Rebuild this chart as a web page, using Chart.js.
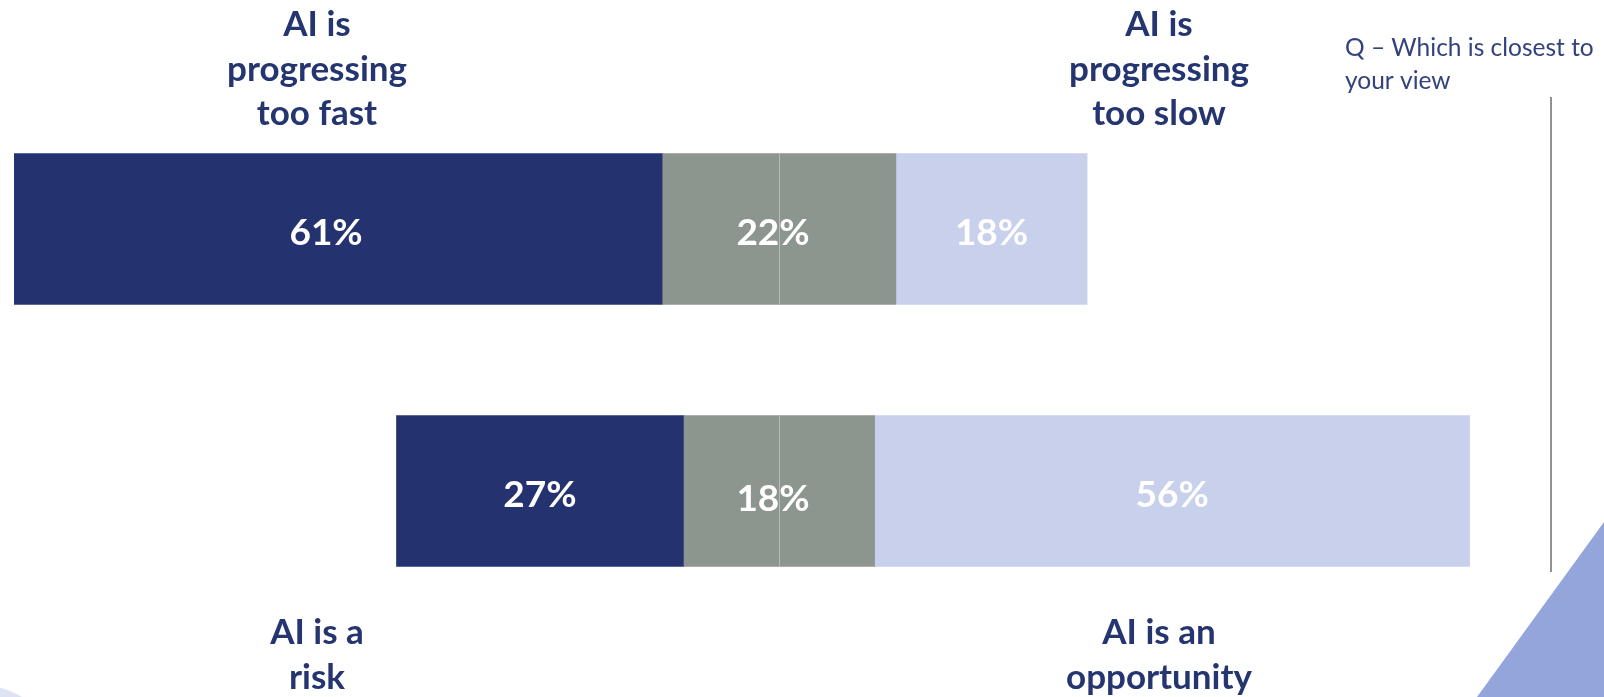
<!DOCTYPE html>
<html>
<head>
<meta charset="utf-8">
<script src="https://cdn.jsdelivr.net/npm/chart.js@4"></script>
<style>
  html, body { margin: 0; padding: 0; background: #ffffff; }
  #wrap { width: 1604px; height: 697px; position: relative; }
</style>
</head>
<body>
<div id="wrap"><canvas id="myChart" width="1604" height="697"></canvas></div>
<script>
// data
const questions = ["AI is progressing too fast / too slow", "AI is a risk / an opportunity"];
const leftShare = [61, 27];     // too fast / a risk
const neutralShare = [22, 18];  // neutral, split across the centre
const rightShare = [18, 56];    // too slow / an opportunity

const navy = "#243370";
const grey = "#8d958f";
const lilac = "#c8d0ec";
const textNavy = "#253570";

// floating bars around 0, neutral split half each side
const leftBars = leftShare.map((v, i) => [-(neutralShare[i] / 2 + v), -neutralShare[i] / 2]);
const midBars = neutralShare.map((v) => [-v / 2, v / 2]);
const rightBars = rightShare.map((v, i) => [neutralShare[i] / 2, neutralShare[i] / 2 + v]);

const data = {
  labels: questions,
  datasets: [
    { data: leftBars, values: leftShare, backgroundColor: navy },
    { data: midBars, values: neutralShare, backgroundColor: grey },
    { data: rightBars, values: rightShare, backgroundColor: lilac },
  ],
};

// percent labels inside the bars
const barLabels = {
  id: "barLabels",
  afterDatasetsDraw(chart) {
    const { ctx } = chart;
    ctx.save();
    // thin divider at the centre of the neutral block
    const xs = chart.scales.x;
    const zero = Math.round(xs.getPixelForValue(0)) + 0.5;
    chart.getDatasetMeta(1).data.forEach((bar) => {
      const { y, height } = bar.getProps(["y", "height"], true);
      ctx.strokeStyle = "rgba(200,208,205,0.7)";
      ctx.lineWidth = 1;
      ctx.beginPath();
      ctx.moveTo(zero, y - height / 2);
      ctx.lineTo(zero, y + height / 2);
      ctx.stroke();
    });

    ctx.font = "bold 37px Lato";
    ctx.fillStyle = "#ffffff";
    ctx.textAlign = "center";
    ctx.textBaseline = "middle";
    chart.data.datasets.forEach((ds, di) => {
      chart.getDatasetMeta(di).data.forEach((bar, i) => {
        const { x, base, y } = bar.getProps(["x", "base", "y"], true);
        let cx = (x + base) / 2;
        if (di === 1) cx -= 6;
        if (di === 0 && i === 0) cx -= 12;
        const dy = di === 1 && i === 1 ? 8 : 4;
        ctx.fillText(ds.values[i] + "%", cx, y + dy);
      });
    });
    ctx.restore();
  },
};

// headings, question text and slide decoration
const slideText = {
  id: "slideText",
  afterDraw(chart) {
    const { ctx } = chart;
    ctx.save();
    ctx.fillStyle = textNavy;
    ctx.textAlign = "center";
    ctx.textBaseline = "alphabetic";
    ctx.font = "bold 35px Lato";
    const block = (lines, x, y0) => lines.forEach((t, k) => ctx.fillText(t, x, y0 + k * 44.5));
    block(["AI is", "progressing", "too fast"], 317, 36);
    block(["AI is", "progressing", "too slow"], 1159, 36);
    block(["AI is a", "risk"], 317, 644);
    block(["AI is an", "opportunity"], 1159, 644);

    ctx.textAlign = "left";
    ctx.font = "24.5px Lato";
    ctx.fillStyle = "#33427c";
    ctx.fillText("Q \u2013 Which is closest to", 1345, 56);
    ctx.fillText("your view", 1345, 89);

    // side rule
    ctx.strokeStyle = "#8e9290";
    ctx.lineWidth = 2;
    ctx.beginPath();
    ctx.moveTo(1551, 97);
    ctx.lineTo(1551, 572);
    ctx.stroke();

    // corner triangle
    ctx.fillStyle = "#93a5db";
    ctx.beginPath();
    ctx.moveTo(1477, 697);
    ctx.lineTo(1604, 522);
    ctx.lineTo(1604, 697);
    ctx.closePath();
    ctx.fill();

    // faint swoosh bottom-left
    ctx.fillStyle = "rgba(200,208,236,0.6)";
    ctx.beginPath();
    ctx.moveTo(0, 688);
    ctx.quadraticCurveTo(10, 690, 22, 697);
    ctx.lineTo(0, 697);
    ctx.closePath();
    ctx.fill();
    ctx.restore();
  },
};

const config = {
  type: "bar",
  data,
  options: {
    indexAxis: "y",
    responsive: false,
    animation: false,
    layout: { padding: { left: 14, right: 60, top: 98, bottom: 75 } },
    datasets: { bar: { grouped: false, barThickness: 151, borderWidth: 0, borderSkipped: false } },
    scales: {
      x: { min: -72, max: 72, display: false },
      y: { display: false },
    },
    plugins: {
      legend: { display: false },
      tooltip: { enabled: false },
    },
  },
  plugins: [barLabels, slideText],
};

new Chart(document.getElementById("myChart"), config);
</script>
</body>
</html>
